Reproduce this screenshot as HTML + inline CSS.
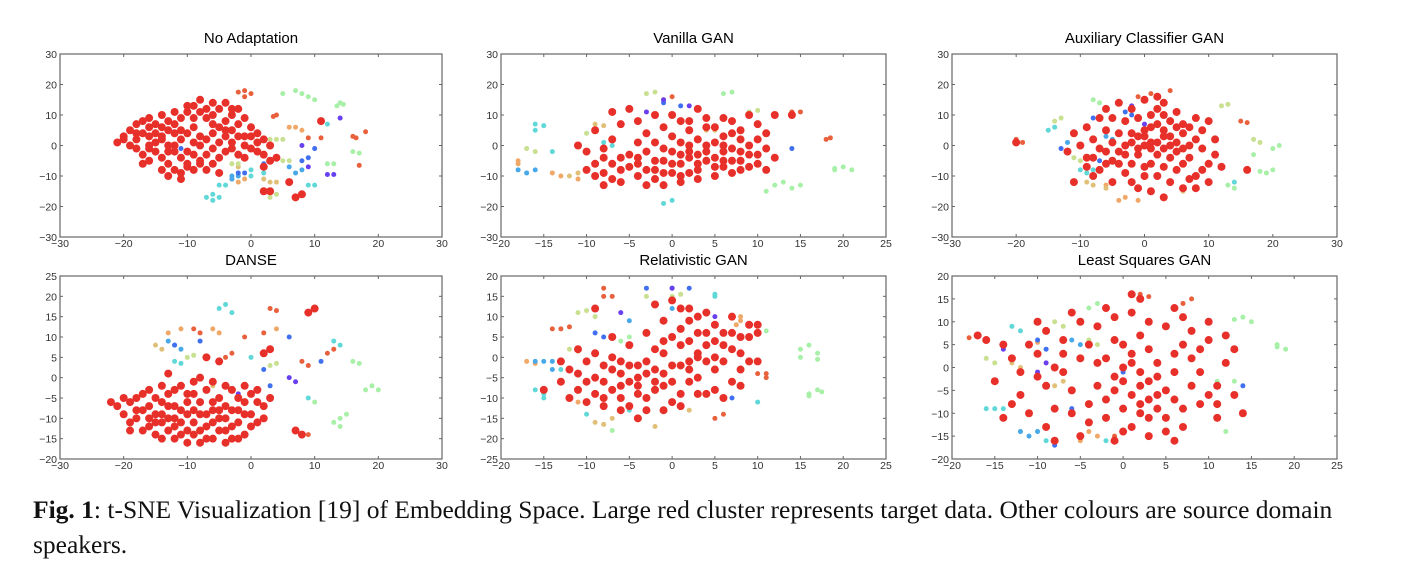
<!DOCTYPE html>
<html><head><meta charset="utf-8"><style>
body{margin:0;background:#fff;width:1402px;height:586px;overflow:hidden;position:relative;font-family:"Liberation Sans",sans-serif}
svg{position:absolute;left:0;top:0}
.cap{position:absolute;left:33px;top:492px;width:1340px;font-family:"Liberation Serif",serif;font-size:25.5px;line-height:35px;color:#111}
</style></head><body>
<svg id="fig" width="1402" height="586"></svg>
<div class="cap"><b>Fig. 1</b>: t-SNE Visualization [19] of Embedding Space. Large red cluster represents target data. Other colours are source domain speakers.</div>
<script>
const titles=["No Adaptation","Vanilla GAN","Auxiliary Classifier GAN","DANSE","Relativistic GAN","Least Squares GAN"];
const xTicks=[[-30,-20,-10,0,10,20,30],[-20,-15,-10,-5,0,5,10,15,20,25],[-30,-20,-10,0,10,20,30],[-30,-20,-10,0,10,20,30],[-20,-15,-10,-5,0,5,10,15,20,25],[-20,-15,-10,-5,0,5,10,15,20,25]];
const yTicks=[[-30,-20,-10,0,10,20,30],[-30,-20,-10,0,10,20,30],[-30,-20,-10,0,10,20,30],[-20,-15,-10,-5,0,5,10,15,20,25],[-25,-20,-15,-10,-5,0,5,10,15,20],[-20,-15,-10,-5,0,5,10,15,20]];
const colors=['#e8603c','#f0a868','#e0c078','#c8e090','#a8f0a8','#60d8d8','#48a8e8','#4070f0','#6840f0'];
const red1=[[-21,1],[-20,3],[-19,5],[-18,7],[-17,8],[-16,6],[-15,4],[-14,2],[-13,0],[-12,-2],[-11,-4],[-10,-6],[-9,-8],[-8,-5],[-7,-3],[-6,-1],[-5,1],[-4,3],[-3,5],[-2,7],[-1,9],[0,6],[1,4],[2,2],[3,0],[2,-3],[3,-5],[4,-4],[-18,2],[-17,4],[-16,0],[-15,-2],[-14,-4],[-13,-6],[-12,-8],[-11,-9],[-10,-7],[-9,-3],[-8,0],[-7,2],[-6,4],[-5,6],[-4,8],[-3,10],[-2,12],[-5,12],[-6,14],[-8,15],[-9,13],[-10,11],[-11,9],[-12,7],[-13,5],[-14,3],[-15,1],[-16,-1],[-17,-3],[-18,-1],[-19,0],[-20,2],[-16,9],[-14,10],[-12,11],[-10,13],[-8,11],[-7,9],[-6,7],[-9,6],[-10,4],[-11,2],[-12,0],[-13,-2],[-10,-2],[-8,-6],[-6,-6],[-4,-2],[-3,1],[-2,3],[-1,0],[0,-1],[1,1],[-1,3],[0,3],[-2,-3],[-5,-4],[-7,-8],[-5,-9],[-11,-11],[-13,-10],[-14,-8],[-16,-5],[-17,-6],[-15,7],[-13,8],[-11,5],[-9,9],[-7,12],[-4,14],[-3,12],[-6,10],[-8,3],[-9,1],[-12,4],[-14,6],[-18,4],[-16,3],[-4,5],[-3,-1],[-1,-4],[1,-2],[2,-15],[3,-15],[7,-17],[8,-16],[6,-12],[11,8],[2,-7]];
const oth1=[[-1,18,0],[-2,17.5,0],[0,17,0],[-1,16,0],[4,10,0],[3.5,9.5,0],[16,3,0],[16.5,2.5,0],[18,4.5,0],[17,-6.5,0],[9,2.5,0],[11,2.5,0],[6,6,1],[7,6,1],[8,5,1],[-3,-11,1],[-2,-12,1],[-1,-11,1],[2,-11,2],[3,-12,2],[4,-12,2],[-2,-7,2],[-3,-6,3],[-2,-6,3],[5,-5,3],[6,-5,3],[4,2,3],[5,2,3],[3,2,3],[4,-16,3],[3,-17,3],[7,18,4],[8,17,4],[9,16,4],[10,15,4],[5,17,4],[14,14,4],[13.5,13,4],[14.5,13.5,4],[13,-6,4],[12,-6,4],[16,-2,4],[17,-2.5,4],[-6,-16,5],[-7,-17,5],[-6,-18,5],[-5,-17,5],[10,-13,5],[9,-13,5],[11,8,5],[12,7,5],[-5,-13,5],[-4,-13,5],[0,-8,5],[2,-9,5],[0,-10,5],[-3,-10,6],[-2,-10,6],[-3,-11,6],[7,-9,6],[8,-8,6],[6,-7,6],[-11,-1,7],[-11,-11,7],[2,-6,7],[9,-4,7],[10,-1,7],[8,-5,7],[-2,-9,7],[-1,-9,7],[8,0,8],[14,9,8],[13,-9.5,8],[12,-9.5,8],[9,-7,8]];
const red2=[[-10,-2],[-9,-6],[-8,-9],[-7,-11],[-6,-4],[-5,-7],[-4,-10],[-3,-13],[-2,-8],[-1,-5],[0,-2],[1,-6],[2,-9],[3,-3],[4,0],[5,-4],[6,-7],[7,-1],[8,2],[9,-3],[10,-6],[11,-1],[11,4],[10,7],[9,10],[8,5],[7,8],[6,3],[5,6],[4,9],[3,12],[2,5],[1,8],[0,3],[-1,6],[-2,10],[-3,4],[-4,1],[-5,12],[-6,7],[-7,2],[-8,-4],[-9,-10],[-8,-13],[-6,-12],[-4,-6],[-3,-2],[-2,-11],[0,-9],[1,-12],[2,-4],[3,-8],[4,-5],[5,-10],[6,-2],[7,-5],[8,-8],[9,0],[10,2],[12,-4],[-1,-1],[0,-6],[1,-3],[2,0],[3,-6],[4,-2],[5,1],[6,-5],[7,-9],[8,-2],[-5,-3],[-6,-8],[-7,-6],[-8,-1],[-3,-8],[-2,-5],[-1,-9],[5,-7],[6,0],[7,4],[8,-5],[9,-7],[10,-3],[3,2],[4,6],[2,8],[-4,8],[-7,11],[-9,5],[-2,1],[-1,-13],[1,-10],[11,-8],[12,10],[-11,0],[-10,-8],[14,10],[-4,-4],[2,-2],[3,-11],[6,9],[0,10],[1,1]];
const oth2=[[18,2,0],[18.5,2.5,0],[14,11,0],[15,11,0],[-1,15,0],[0,16,0],[-13,-10,1],[-14,-9,1],[-11,-11,1],[-18,-5,1],[-18,-6,1],[-12,-10,2],[-11,-9,2],[4,5,2],[5,5,2],[-9,7,2],[-8,6.5,2],[-16,-2,3],[-17,-1,3],[-10,4,3],[-9,4.5,3],[9,11,3],[10,11.5,3],[-3,17,3],[-2,17.5,3],[19,-8,4],[20,-7,4],[19,-7.5,4],[21,-8,4],[12,-13,4],[13,-12,4],[14,-14,4],[15,-13,4],[6,17,4],[7,17.5,4],[11,-15,4],[-16,7,5],[-15,6.5,5],[-16,5,5],[-14,-2,5],[-1,-19,5],[0,-18,5],[-7,0,5],[-8,1,5],[-18,-8,6],[-17,-9,6],[-16,-8,6],[-1,14,7],[1,13,7],[2,-3,7],[14,-1,7],[-1,15,8],[2,13,8],[-3,11,8]];
const red3=[[-9,-4],[-8,2],[-7,-8],[-6,5],[-5,-12],[-4,-2],[-3,8],[-2,-6],[-1,3],[0,-10],[1,6],[2,-3],[3,10],[4,0],[5,-8],[6,4],[7,-4],[8,9],[9,-1],[10,-6],[11,2],[-8,-10],[-6,-2],[-4,4],[-2,12],[0,0],[2,7],[4,-12],[6,-14],[8,-10],[10,8],[-7,9],[-5,1],[-3,-9],[-1,-14],[1,-6],[3,3],[5,11],[7,0],[9,5],[-10,0],[-9,6],[-5,9],[-3,0],[-1,-3],[1,1],[3,-7],[5,-2],[7,-11],[9,-8],[-2,4],[0,5],[2,12],[4,8],[6,7],[8,2],[-4,-6],[-6,-6],[-8,-4],[-1,9],[1,10],[3,14],[5,6],[-2,-12],[0,-7],[2,-10],[4,-4],[6,-6],[0,3],[2,1],[3,5],[4,3],[1,-1],[-1,-1],[5,1],[6,-1],[-3,-3],[-5,-5],[-7,-1],[-9,-7],[11,-3],[12,-7],[-11,4],[-12,-2],[8,-14],[-4,14],[0,15],[2,16],[-20,1],[16,-8],[-2,1],[3,-1],[7,6],[-6,12],[10,-12],[-11,-12],[1,-15],[3,-17]];
const oth3=[[15,8,0],[16,7.5,0],[-20,2,0],[-19,1,0],[-1,16,0],[1,17,0],[4,18,0],[-3,-17,1],[-4,-18,1],[-1,-18,1],[-6,-13,1],[-5,-12,1],[-8,-13,2],[-9,-12,2],[-6,-14,2],[6,-15,2],[12,13,3],[13,13.5,3],[-10,-5,3],[-11,-4,3],[-14,8,3],[-13,9,3],[17,2,3],[18,1,3],[19,-9,4],[20,-8,4],[18,-8.5,4],[21,0,4],[20,-1,4],[17,-3,4],[-8,15,4],[-7,14,4],[13,-13,4],[14,-14,4],[-9,-9,5],[-10,-8,5],[-8,-8,5],[-14,6,5],[-15,5,5],[14,-12,5],[-6,3,6],[-5,2,6],[-12,1,6],[-3,11,7],[-2,10,7],[-8,9,7],[-13,-1,7],[-7,-5,7],[-2,13,8],[0,7,8],[-4,-2,8]];
const red4=[[-21,-7],[-20,-9],[-19,-6],[-18,-10],[-17,-8],[-16,-12],[-15,-5],[-14,-9],[-13,-13],[-12,-7],[-11,-11],[-10,-4],[-9,-14],[-8,-9],[-7,-12],[-6,-15],[-5,-10],[-4,-13],[-3,-8],[-2,-11],[-1,-14],[0,-9],[1,-6],[2,-10],[-19,-11],[-17,-13],[-15,-14],[-13,-4],[-11,-2],[-9,-1],[-7,-3],[-5,-5],[-3,-3],[-1,-6],[-16,-3],[-14,-2],[-12,-15],[-10,-13],[-8,-16],[-6,-8],[-4,-7],[-2,-5],[0,-12],[2,-7],[-18,-5],[-16,-7],[-14,-11],[-12,-10],[-10,-9],[-8,-6],[-6,-11],[-4,-10],[-2,-15],[0,-4],[-17,-4],[-15,-9],[-13,-7],[-11,-8],[-9,-11],[-7,-9],[-5,-13],[-3,-12],[-1,-9],[1,-11],[-20,-5],[-18,-8],[-16,-10],[-14,-6],[-12,-12],[-10,-6],[-8,-13],[-6,-6],[-4,-16],[-2,-8],[-15,-11],[-13,-10],[-11,-14],[-9,-8],[-7,-15],[-5,-8],[-3,-15],[-12,-3],[-9,-4],[-6,-1],[-4,-2],[-19,-13],[-14,-15],[-10,-16],[3,-5],[-13,1],[-8,0],[-22,-6],[-1,-2],[1,-3],[3,7],[9,16],[10,17],[8,-14],[7,-13],[-7,5],[-5,4],[2,6]];
const oth4=[[3,17,0],[4,16.5,0],[9,-14,0],[-4,5,0],[-3,6,0],[8,4,0],[9,3,0],[-8,11,0],[-9,12,0],[2,11,0],[-1,10,0],[13,7,0],[12,6,0],[-13,11,1],[-11,12,1],[-6,12,1],[-5,11,1],[4,12,1],[-15,8,2],[-14,7,2],[-7,-3,2],[-6,-2,2],[3,3,3],[4,3.5,3],[-10,5,3],[-9,5.5,3],[19,-2,4],[20,-3,4],[18,-3,4],[14,-10,4],[15,-9,4],[13,-11,4],[16,4,4],[17,3.5,4],[10,-6,4],[14,-12,4],[-5,17,5],[-4,18,5],[-3,16,5],[13,9,5],[14,8,5],[9,-5,5],[-12,4,5],[-11,3.5,5],[0,5,5],[-13,9,6],[-12,8,6],[-11,7,6],[-12,8,7],[-8,9,7],[3,-2,7],[2,2,7],[11,4,7],[6,10,7],[7,-1,8],[6,0,8],[-2,-4,8]];
const red5=[[-13,-6],[-12,-3],[-11,-8],[-10,-1],[-9,-5],[-8,-10],[-7,-3],[-6,-7],[-5,-12],[-4,-5],[-3,-1],[-2,-8],[-1,-4],[0,-11],[1,-2],[2,-6],[3,1],[4,-9],[5,-3],[6,3],[7,-6],[8,1],[9,5],[10,-1],[-11,2],[-9,1],[-7,5],[-5,3],[-3,6],[-1,9],[1,12],[3,10],[5,8],[7,10],[9,8],[-8,-6],[-6,-4],[-4,-9],[-2,-3],[0,-6],[2,-1],[4,3],[6,-1],[8,5],[-10,-6],[-8,-2],[-6,-10],[-4,-2],[-2,-6],[0,-2],[2,4],[4,6],[6,6],[-7,-8],[-5,-6],[-3,-10],[-1,-7],[1,-9],[3,-5],[5,0],[7,2],[-9,-9],[-7,0],[-5,-2],[-3,-4],[-1,1],[1,3],[3,6],[5,4],[0,5],[1,7],[2,9],[-1,4],[-2,13],[0,14],[2,12],[4,11],[-3,-13],[-1,-13],[1,-12],[3,-9],[5,-8],[6,-10],[8,-7],[-12,-10],[-10,-11],[-6,-13],[-4,-15],[7,6],[8,-3],[9,-1],[-11,-4],[-13,-1],[2,-3],[-4,-7],[-6,-1],[4,-1],[3,0],[-2,2],[-15,-8],[10,6],[10,8],[-9,12],[-8,-12]];
const oth5=[[-13,7,0],[-14,7,0],[-12,7.5,0],[-8,15,0],[-7,15,0],[6,-14,0],[5,-15,0],[10,-4,0],[11,-5,0],[11,-4,0],[-8,17,0],[-17,-1,1],[-16,-1.5,1],[8,10,1],[8,9,1],[7.5,8,1],[-13,-6,1],[-11,-11,1],[-9,-16,2],[-8,-16.5,2],[-7,-15,2],[2,-13,2],[-2,-17,2],[-12,2,3],[-11,1.5,3],[-11,11,3],[-10,11.5,3],[-9,10,3],[0,15,3],[1,15.5,3],[-3,15,3],[15,2,4],[16,3,4],[15,0,4],[17,1,4],[17,-0.5,4],[16,-9,4],[17,-8,4],[16,-9.5,4],[17.5,-8.5,4],[10,6,4],[11,6.5,4],[-7,-18,4],[-5,5,4],[-6,4,4],[-15,-9,5],[-16,-8,5],[-15,-10,5],[5,15,5],[5,15.5,5],[10,-11,5],[-10,-14,5],[-5,-13,5],[-13,-3,5],[-15,-1,6],[-14,-1,6],[-16,-1,6],[-14,-3,6],[-5,9,6],[0,12,6],[1,12,6],[-9,6,7],[-8,5,7],[-3,17,7],[0,17,7],[2,17,7],[7,-10,7],[0,17,8],[-6,11,8],[-5,3,8],[5,10,8]];
const red6=[[-15,-3],[-13,2],[-12,-6],[-11,5],[-10,-2],[-9,8],[-8,-9],[-7,3],[-6,-5],[-5,10],[-4,-12],[-3,1],[-2,-7],[-1,6],[0,-3],[1,12],[2,-10],[3,4],[4,-6],[5,9],[6,-1],[7,-13],[8,2],[9,-8],[10,6],[11,-4],[12,1],[13,-6],[-14,5],[-10,10],[-6,12],[-2,13],[2,15],[6,13],[10,10],[12,7],[-13,-8],[-9,-13],[-5,-15],[-1,-16],[3,-15],[7,-9],[11,-11],[-7,-1],[-4,5],[-1,-2],[1,1],[2,-4],[3,-7],[4,-2],[5,-5],[1,-6],[0,-9],[2,-8],[4,-9],[5,-11],[3,-3],[6,-7],[-1,-5],[0,0],[1,-13],[-2,-11],[6,3],[8,-4],[9,-1],[7,5],[-3,9],[-1,11],[3,10],[7,11],[9,4],[-8,0],[-10,3],[-12,-1],[-6,-10],[-3,-4],[0,5],[2,7],[4,1],[-4,-8],[1,3],[2,-1],[3,-11],[5,-14],[-2,2],[-9,-4],[-11,-10],[11,-8],[13,4],[-5,2],[8,8],[10,-6],[-7,6],[0,-14],[-16,6],[-14,-11],[14,-10],[-8,-16],[6,-16],[1,16],[-17,7]];
const oth6=[[-17,7,0],[-18,6.5,0],[7,14,0],[8,15,0],[2,16,0],[3,15.5,0],[14,-10,0],[-1,-15,0],[-4,-14,1],[-3,-15,1],[-5,-16,1],[-11,5,1],[-10,5.5,1],[-13,1,2],[-12,0,2],[-8,-4,2],[-7,-3,2],[-8,10,3],[-7,9,3],[-16,2,3],[-15,1,3],[-4,6,3],[-3,5,3],[18,5,4],[19,4,4],[18,4.5,4],[14,11,4],[15,10,4],[13,10.5,4],[11,-3,4],[13,-3,4],[-4,13,4],[-3,14,4],[12,-14,4],[-15,-9,5],[-14,-9,5],[-16,-9,5],[-12,8,5],[-13,9,5],[14,-10,5],[-9,-16,5],[-2,-16,5],[-11,-15,6],[-10,-14,6],[-12,-14,6],[-5,5,6],[-6,6,6],[-10,6,7],[-9,4,7],[-6,-9,7],[0,-1,7],[14,-4,7],[-8,-17,7],[-14,4,8],[-10,-1,8],[-9,1,8]];
const reds=[red1,red2,red3,red4,red5,red6];
const others=[oth1,oth2,oth3,oth4,oth5,oth6];
const boxes=[[60,54,442,237],[501,54,886,237],[952,54,1337,237],[60,276,442,459],[501,276,886,459],[952,276,1337,459]];
const NS='http://www.w3.org/2000/svg';
const svg=document.getElementById('fig');
function mk(t,a,p){const e=document.createElementNS(NS,t);for(const k in a)e.setAttribute(k,a[k]);(p||svg).appendChild(e);return e;}
boxes.forEach((b,i)=>{
  const [x0,y0,x1,y1]=b;const xt=xTicks[i],yt=yTicks[i];
  const xmin=xt[0],xmax=xt[xt.length-1],ymin=yt[0],ymax=yt[yt.length-1];
  const sx=v=>x0+(v-xmin)/(xmax-xmin)*(x1-x0);
  const sy=v=>y1-(v-ymin)/(ymax-ymin)*(y1-y0);
  const g=mk('g',{});
  
  
  const t=mk('text',{x:(x0+x1)/2,y:y0-11,'text-anchor':'middle','font-size':15,fill:'#000'},g);t.textContent=titles[i];
  
  
  const pts=mk('g',{},g);
  
  
  others[i].forEach(p=>{const c=mk('circle',{cx:sx(p[0]),cy:sy(p[1]),r:2.5,fill:colors[p[2]]},pts);
    
    });
  reds[i].forEach(p=>{const c=mk('circle',{cx:sx(p[0]),cy:sy(p[1]),r:4,fill:'#e8302a'},pts);
    
    });
  const fr=mk('rect',{x:x0,y:y0,width:x1-x0,height:y1-y0,fill:'none',stroke:'#666','stroke-width':1.2},g);
  
  
  xt.forEach(v=>{const X=sx(v);
    mk('line',{x1:X,x2:X,y1:y1,y2:y1-3,stroke:'#666'},g);mk('line',{x1:X,x2:X,y1:y0,y2:y0+3,stroke:'#666'},g);
    const l=mk('text',{x:X,y:y1+10,'text-anchor':'middle','font-size':10.5,fill:'#333'},g);l.textContent=v<0?'\u2212'+(-v):v;
    
    });
  yt.forEach(v=>{const Y=sy(v);
    mk('line',{x1:x0,x2:x0+3,y1:Y,y2:Y,stroke:'#666'},g);mk('line',{x1:x1,x2:x1-3,y1:Y,y2:Y,stroke:'#666'},g);
    const l=mk('text',{x:x0-3,y:Y+4,'text-anchor':'end','font-size':10.5,fill:'#333'},g);l.textContent=v<0?'\u2212'+(-v):v;
    
    });
});
</script>
</body></html>
